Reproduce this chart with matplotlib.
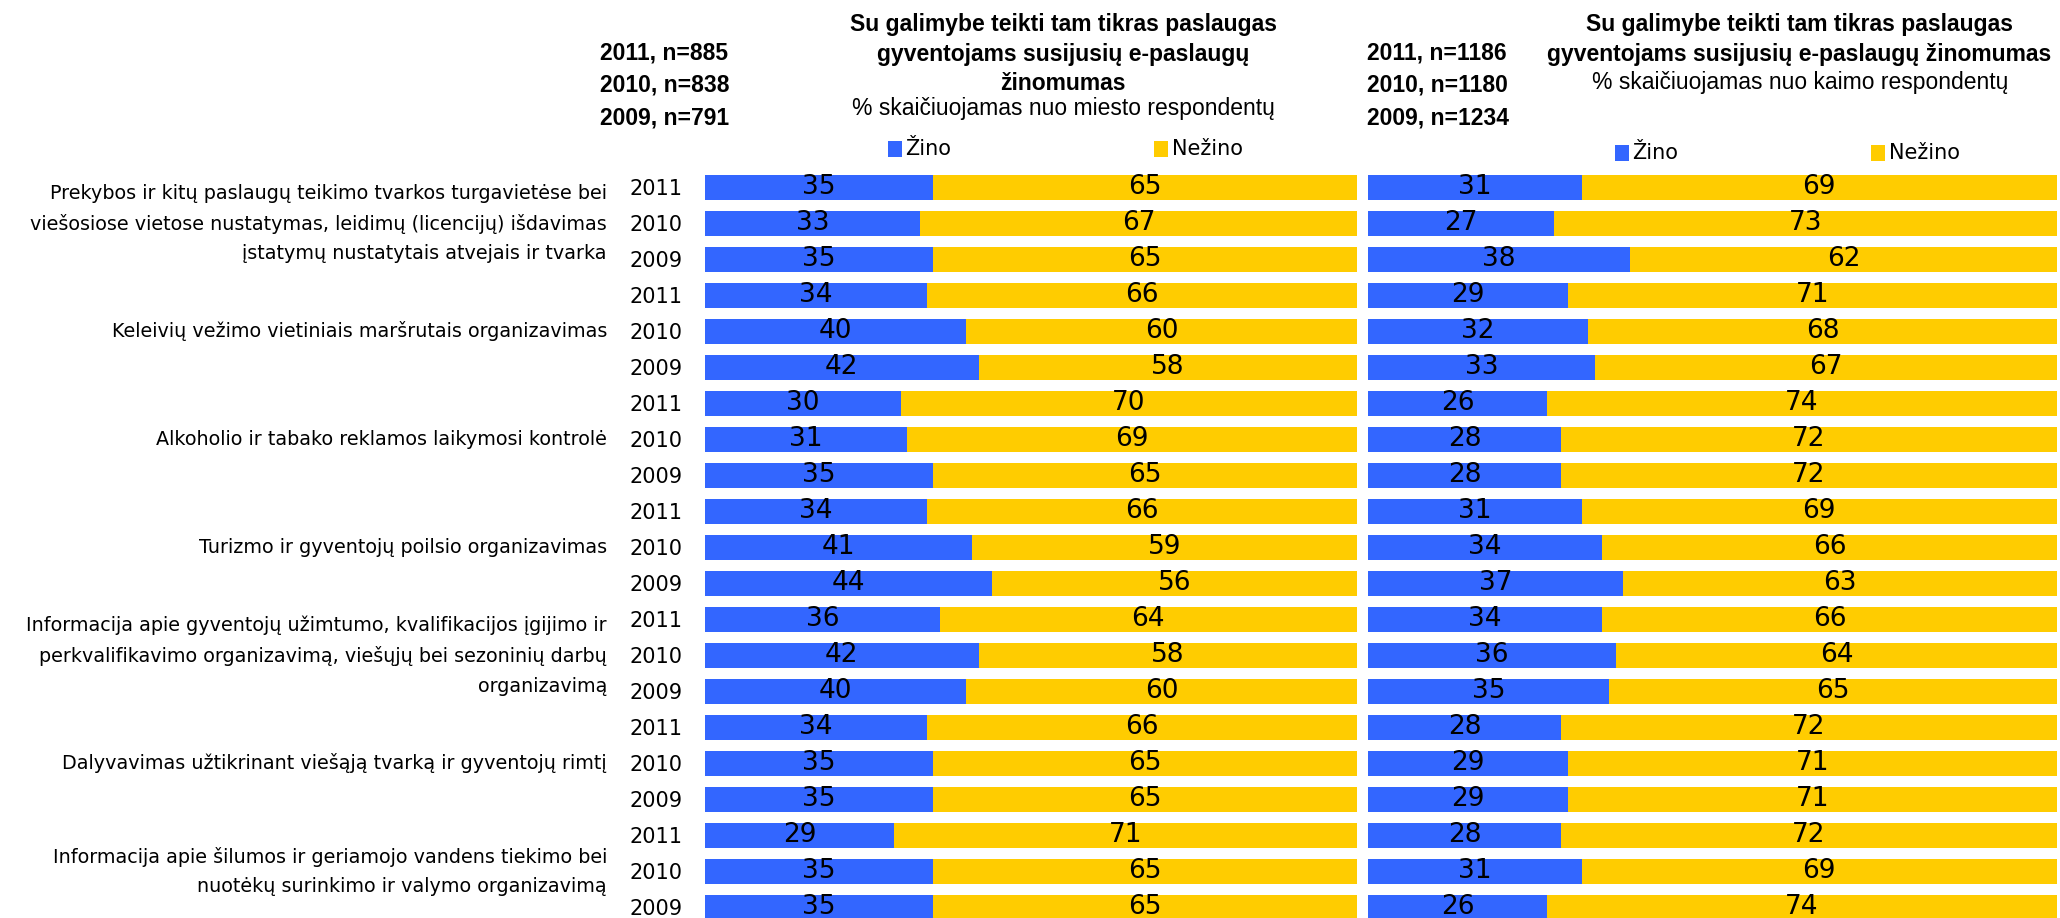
import numpy as np
import matplotlib
matplotlib.use("Agg")
import matplotlib.pyplot as plt
from matplotlib.patches import Rectangle
from matplotlib.transforms import blended_transform_factory

# categories (top to bottom), each with three years
categories = [
    "Prekybos ir kitų paslaugų teikimo tvarkos turgavietėse bei\n"
    "viešosiose vietose nustatymas, leidimų (licencijų) išdavimas\n"
    "įstatymų nustatytais atvejais ir tvarka",
    "Keleivių vežimo vietiniais maršrutais organizavimas",
    "Alkoholio ir tabako reklamos laikymosi kontrolė",
    "Turizmo ir gyventojų poilsio organizavimas",
    "Informacija apie gyventojų užimtumo, kvalifikacijos įgijimo ir\n"
    "perkvalifikavimo organizavimą, viešųjų bei sezoninių darbų\n"
    "organizavimą",
    "Dalyvavimas užtikrinant viešąją tvarką ir gyventojų rimtį",
    "Informacija apie šilumos ir geriamojo vandens tiekimo bei\n"
    "nuotėkų surinkimo ir valymo organizavimą",
]
years = ["2011", "2010", "2009"]

# miesto respondentai
city_zino = [35, 33, 35, 34, 40, 42, 30, 31, 35, 34, 41, 44, 36, 42, 40, 34, 35, 35, 29, 35, 35]
city_nezino = [65, 67, 65, 66, 60, 58, 70, 69, 65, 66, 59, 56, 64, 58, 60, 66, 65, 65, 71, 65, 65]
# kaimo respondentai
rural_zino = [31, 27, 38, 29, 32, 33, 26, 28, 28, 31, 34, 37, 34, 36, 35, 28, 29, 29, 28, 31, 26]
rural_nezino = [69, 73, 62, 71, 68, 67, 74, 72, 72, 69, 66, 63, 66, 64, 65, 72, 71, 71, 72, 69, 74]

city_n = ["2011, n=885", "2010, n=838", "2009, n=791"]
rural_n = ["2011, n=1186", "2010, n=1180", "2009, n=1234"]

BLUE = "#3366FF"
YELLOW = "#FFCC00"
W, H = 2060, 918

fig = plt.figure(figsize=(W / 100, H / 100), dpi=100)


def fx(x):
    return x / W


def fy(y):
    return 1 - y / H


pitch = 36.0
top_px = 187.5 - pitch / 2
ax_h = (H - top_px) / H
ymax = -0.5 + (H - top_px) / pitch

ax1 = fig.add_axes([fx(705), 0, (1357 - 705) / W, ax_h])
ax2 = fig.add_axes([fx(1368), 0, (2057 - 1368) / W, ax_h])

rows = np.arange(len(city_zino))
for ax, zino, nezino in [(ax1, city_zino, city_nezino), (ax2, rural_zino, rural_nezino)]:
    zino = np.array(zino)
    nezino = np.array(nezino)
    ax.barh(rows, zino, height=0.69, color=BLUE)
    ax.barh(rows, nezino, left=zino, height=0.69, color=YELLOW)
    for r in rows:
        ax.text(zino[r] / 2, r, str(zino[r]), ha="center", va="center", fontsize=19, color="black")
        ax.text(zino[r] + nezino[r] / 2, r, str(nezino[r]), ha="center", va="center", fontsize=19, color="black")
    ax.set_xlim(0, 100)
    ax.set_ylim(ymax, -0.5)
    for s in ax.spines.values():
        s.set_visible(False)
    ax.set_xticks([])
    ax.set_yticks([])

# year labels on the left panel
ax1.set_yticks(rows)
ax1.set_yticklabels(years * len(categories), fontsize=15)
ax1.tick_params(axis="y", length=0, pad=16)

# category labels, centred on middle (2010) row
tr = blended_transform_factory(fig.transFigure, ax1.transData)
for i, cat in enumerate(categories):
    fig.text(fx(607), 3 * i + 1, cat, transform=tr, ha="right", va="center",
             fontsize=13.8, linespacing=1.7)

# headers
hdr = dict(family="Liberation Sans", fontweight="bold", fontsize=16.5)
for j, (a, b) in enumerate(zip(city_n, rural_n)):
    y = [53, 85, 118][j]
    fig.text(fx(600), fy(y), a, ha="left", va="center", **hdr)
    fig.text(fx(1367), fy(y), b, ha="left", va="center", **hdr)

for x, lines in [(1063, ["Su galimybe teikti tam tikras paslaugas",
                         "gyventojams susijusių e-paslaugų", "žinomumas"]),
                 (1799, ["Su galimybe teikti tam tikras paslaugas",
                         "gyventojams susijusių e-paslaugų žinomumas"])]:
    for k, ln in enumerate(lines):
        fig.text(fx(x), fy([24, 54, 83][k]), ln, ha="center", va="center", **hdr)

fig.text(fx(1063), fy(108), "% skaičiuojamas nuo miesto respondentų", ha="center", va="center",
         family="Liberation Sans", fontsize=16.5)
fig.text(fx(1800), fy(82), "% skaičiuojamas nuo kaimo respondentų", ha="center", va="center",
         family="Liberation Sans", fontsize=16.5)

# legends
for sx, tx, label, col, y in [(888, 905, "Žino", BLUE, 149), (1154, 1172, "Nežino", YELLOW, 149),
                              (1615, 1632, "Žino", BLUE, 153), (1871, 1889, "Nežino", YELLOW, 153)]:
    fig.add_artist(Rectangle((fx(sx), fy(y + 8)), 14 / W, 16 / H, transform=fig.transFigure,
                             facecolor=col, edgecolor="none"))
    fig.text(fx(tx), fy(y), label, ha="left", va="center", fontsize=15)

fig.savefig("out.png", dpi=100)
